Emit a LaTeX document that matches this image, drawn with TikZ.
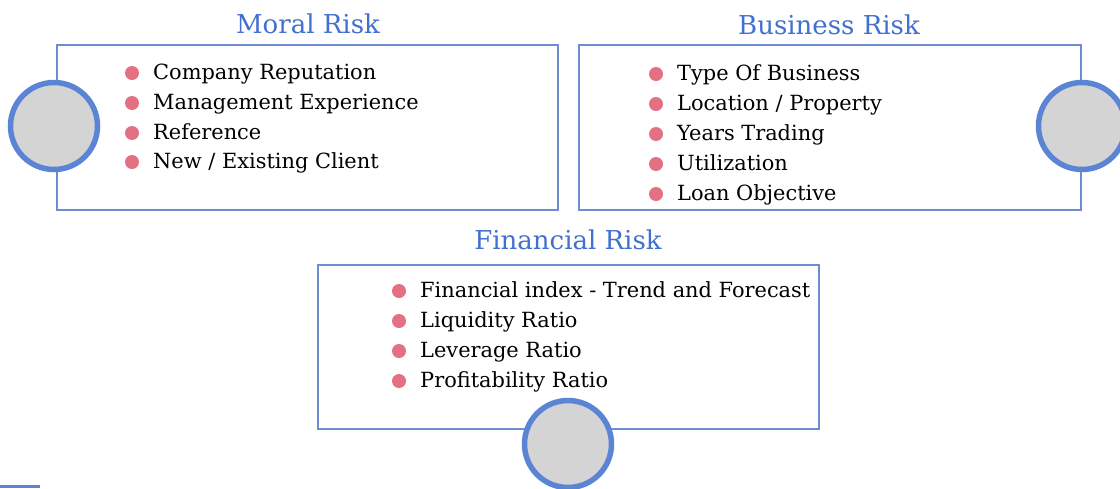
\documentclass[tikz,border=0pt]{standalone}
\usepackage{fontspec}
\setmainfont{DejaVu Serif}
\usetikzlibrary{positioning}
\definecolor{riskblue}{RGB}{66,112,208}
\definecolor{edgeblue}{RGB}{110,140,210}
\definecolor{ringblue}{RGB}{92,132,212}
\definecolor{dotpink}{RGB}{228,112,132}
\definecolor{discgray}{RGB}{212,212,212}
\tikzset{
  riskbox/.style={rectangle, draw=edgeblue, line width=1.3pt, fill=white},
  risktitle/.style={text=riskblue, font=\fontsize{26}{29}\selectfont, inner sep=0pt, text height=1.6ex, text depth=.3ex, yshift=-5pt},
  riskitem/.style={anchor=west, font=\fontsize{20.9}{24}\selectfont, inner sep=0pt, text height=1.6ex, text depth=.35ex, yshift=-4pt},
  disc/.style={circle, draw=ringblue, line width=5.5pt, fill=discgray, minimum size=87pt, inner sep=0pt}
}

\begin{document}
\begin{tikzpicture}[x=1pt, y=-1pt]
        \useasboundingbox (0, 0) rectangle (1120, 488);

        % moral risk
        \node[riskbox, minimum width=501pt, minimum height=165pt] at (307.5, 127.5) (MoralBox) {};
        \node[risktitle] at (308, 25) (MoralTitle) {Moral Risk};
        \node[disc] at (54, 126) (MoralDisc) {};
        \node[riskitem] at (153, 72) (Reputation) {Company Reputation};
        \node[riskitem] at (153, 102) (Experience) {Management Experience};
        \node[riskitem] at (153, 132) (Reference) {Reference};
        \node[riskitem] at (153, 161) (Client) {New / Existing Client};

        % business risk
        \node[riskbox, minimum width=502pt, minimum height=165pt] at (830, 127.5) (BusinessBox) {};
        \node[risktitle] at (829, 26) (BusinessTitle) {Business Risk};
        \node[disc] at (1082, 126) (BusinessDisc) {};
        \node[riskitem] at (677, 73) (BusinessType) {Type Of Business};
        \node[riskitem] at (677, 103) (Location) {Location / Property};
        \node[riskitem] at (677, 133) (YearsTrading) {Years Trading};
        \node[riskitem] at (677, 163) (Utilization) {Utilization};
        \node[riskitem] at (677, 193) (LoanObjective) {Loan Objective};

        % financial risk
        \node[riskbox, minimum width=501pt, minimum height=164pt] at (568.5, 347) (FinancialBox) {};
        \node[risktitle] at (568, 241) (FinancialTitle) {Financial Risk};
        \node[disc] at (568, 444) (FinancialDisc) {};
        \node[riskitem] at (420, 290) (FinancialIndex) {Financial index - Trend and Forecast};
        \node[riskitem] at (420, 320) (Liquidity) {Liquidity Ratio};
        \node[riskitem] at (420, 350) (Leverage) {Leverage Ratio};
        \node[riskitem] at (420, 380) (Profitability) {Profitability Ratio};

        \fill[dotpink] (132, 73) circle (7);
        \fill[dotpink] (132, 103) circle (7);
        \fill[dotpink] (132, 133) circle (7);
        \fill[dotpink] (132, 162) circle (7);

        \fill[dotpink] (656, 74) circle (7);
        \fill[dotpink] (656, 104) circle (7);
        \fill[dotpink] (656, 134) circle (7);
        \fill[dotpink] (656, 164) circle (7);
        \fill[dotpink] (656, 194) circle (7);

        \fill[dotpink] (399, 291) circle (7);
        \fill[dotpink] (399, 321) circle (7);
        \fill[dotpink] (399, 351) circle (7);
        \fill[dotpink] (399, 381) circle (7);

        \fill[ringblue] (0, 485) rectangle (40, 488);

    \end{tikzpicture}
\end{document}
